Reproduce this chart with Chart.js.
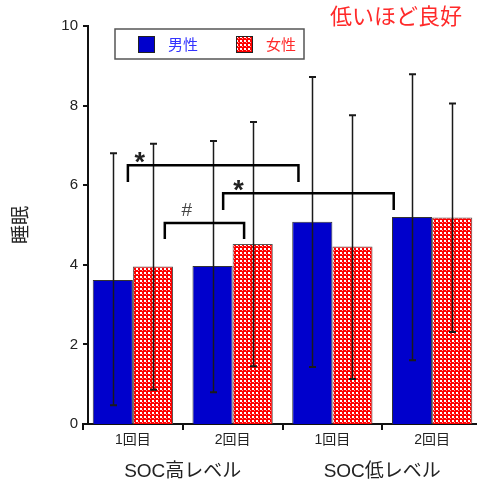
<!DOCTYPE html>
<html lang="ja">
<head>
<meta charset="UTF-8">
<title>睡眠</title>
<script src="https://cdn.jsdelivr.net/npm/chart.js"></script>
<style>
  html, body { margin: 0; padding: 0; background: #fff; overflow: hidden; }
  #chart { display: block; }
</style>
</head>
<body>
<canvas id="chart" width="482" height="484"></canvas>
<script>
// data
const categories = ['1回目', '2回目', '1回目', '2回目'];
const groups = ['SOC高レベル', 'SOC低レベル'];
const seriesNames = ['男性', '女性'];
const maleMean = [3.62, 3.97, 5.08, 5.2];
const maleUpper = [6.8, 7.11, 8.72, 8.79];
const maleLower = [0.47, 0.8, 1.43, 1.6];
const femaleMean = [3.96, 4.52, 4.46, 5.19];
const femaleUpper = [7.04, 7.59, 7.76, 8.05];
const femaleLower = [0.86, 1.45, 1.13, 2.31];
const yMin = 0, yMax = 10, yStep = 2;
const yTitle = '睡眠';
const note = '低いほど良好';
// significance brackets, in category-index / value units
const brackets = [
  { from: -0.05, to: 1.66, y: 6.5, drop: 0.42, mark: '*', markAt: 0.07 },
  { from: 0.905, to: 2.615, y: 5.8, drop: 0.42, mark: '*', markAt: 1.06 },
  { from: 0.32, to: 1.115, y: 5.05, drop: 0.4, mark: '#', markAt: 0.54 }
];

const FONT = "'Liberation Sans', 'Noto Sans CJK JP', sans-serif";
const ctx = document.getElementById('chart').getContext('2d');

function checkPattern() {
  const c = document.createElement('canvas');
  c.width = 4; c.height = 4;
  const g = c.getContext('2d');
  g.fillStyle = '#ff0000'; g.fillRect(0, 0, 4, 4);
  g.fillStyle = '#ffffff'; g.fillRect(0, 0, 2, 2);
  g.fillStyle = '#ffa0a0'; g.fillRect(2, 2, 1, 1);
  return ctx.createPattern(c, 'repeat');
}
const redCheck = checkPattern();
const blue = '#0000cc';

function centerText(g, text, x, cy) {
  const m = g.measureText(text);
  g.fillText(text, x, cy + (m.actualBoundingBoxAscent - m.actualBoundingBoxDescent) / 2);
}

const extras = {
  id: 'extras',
  afterDatasetsDraw(chart) {
    const g = chart.ctx;
    const y = chart.scales.y;
    const errs = [[maleUpper, maleLower], [femaleUpper, femaleLower]];
    g.save();
    g.strokeStyle = '#1a1a1a';
    errs.forEach(([up, lo], di) => {
      chart.getDatasetMeta(di).data.forEach((bar, i) => {
        const x = Math.round(bar.x) + 0.5;
        const yt = y.getPixelForValue(up[i]), yb = y.getPixelForValue(lo[i]);
        g.lineWidth = 1.5;
        g.beginPath(); g.moveTo(x, yt); g.lineTo(x, yb); g.stroke();
        g.lineWidth = 2;
        g.beginPath();
        g.moveTo(x - 3.5, yt); g.lineTo(x + 3.5, yt);
        g.moveTo(x - 3.5, yb); g.lineTo(x + 3.5, yb);
        g.stroke();
      });
    });
    g.restore();
  },
  afterDraw(chart) {
    const g = chart.ctx;
    const { x: xs, y: ys } = chart.scales;
    const area = chart.chartArea;
    g.save();

    // y axis line set a little right of the x axis start
    const ax = Math.round(area.left) + 5;
    g.strokeStyle = '#111';
    g.lineWidth = 2;
    g.beginPath();
    g.moveTo(ax, ys.getPixelForValue(yMax) - 1);
    g.lineTo(ax, area.bottom);
    ys.ticks.forEach(t => {
      const py = Math.round(ys.getPixelForValue(t.value));
      g.moveTo(area.left, py); g.lineTo(ax, py);
    });
    g.stroke();

    // brackets
    brackets.forEach(b => {
      const x1 = xs.getPixelForValue(b.from), x2 = xs.getPixelForValue(b.to);
      const yl = ys.getPixelForValue(b.y), yd = ys.getPixelForValue(b.y - b.drop);
      g.strokeStyle = '#000';
      g.lineWidth = 2.5;
      g.beginPath();
      g.moveTo(x1, yd); g.lineTo(x1, yl); g.lineTo(x2, yl); g.lineTo(x2, yd);
      g.stroke();
      g.textAlign = 'center';
      if (b.mark === '*') {
        g.fillStyle = '#222';
        g.font = 'bold 27px ' + FONT;
        centerText(g, b.mark, xs.getPixelForValue(b.markAt), yl - 8);
      } else {
        g.fillStyle = '#444';
        g.font = '19px ' + FONT;
        centerText(g, b.mark, xs.getPixelForValue(b.markAt), yl - 14);
      }
    });

    // legend box inside the plot
    const lx = area.left + 32, ly = area.top + 3, lw = 189, lh = 30;
    g.fillStyle = '#fff';
    g.fillRect(lx, ly, lw, lh);
    g.strokeStyle = '#555';
    g.lineWidth = 1.5;
    g.strokeRect(lx, ly, lw, lh);
    const items = [
      { fill: blue, text: seriesNames[0], color: '#3333ff', sx: lx + 23 },
      { fill: redCheck, text: seriesNames[1], color: '#ff2a2a', sx: lx + 121 }
    ];
    g.font = '15px ' + FONT;
    g.textAlign = 'left';
    items.forEach(it => {
      g.fillStyle = it.fill;
      g.fillRect(it.sx, ly + 7, 16, 16);
      g.strokeStyle = '#222';
      g.lineWidth = 1;
      g.strokeRect(it.sx + 0.5, ly + 7.5, 16, 16);
      g.fillStyle = it.color;
      centerText(g, it.text, it.sx + 30, ly + 15.5);
    });

    // note at top right
    g.fillStyle = '#ff2a2a';
    g.font = '22px ' + FONT;
    g.textAlign = 'right';
    centerText(g, note, chart.width - 20, 16);
    g.restore();
  }
};

new Chart(ctx, {
  type: 'bar',
  data: {
    labels: categories,
    datasets: [
      { label: seriesNames[0], data: maleMean, backgroundColor: blue,
        borderColor: '#333', borderWidth: 1 },
      { label: seriesNames[1], data: femaleMean, backgroundColor: redCheck,
        borderColor: '#555', borderWidth: 1 }
    ]
  },
  options: {
    responsive: false,
    animation: false,
    devicePixelRatio: 1,
    layout: { padding: { top: 26, left: 0, right: 0, bottom: 0 } },
    categoryPercentage: 0.805,
    barPercentage: 1.0,
    plugins: { legend: { display: false }, tooltip: { enabled: false }, title: { display: false } },
    scales: {
      x: {
        position: 'bottom',
        grid: { offset: true, drawOnChartArea: false, drawTicks: true, tickLength: 6, color: '#111', lineWidth: 2 },
        border: { display: true, color: '#111', width: 2 },
        ticks: { color: '#222', font: { family: FONT, size: 14 }, padding: 2, maxRotation: 0 },
        afterFit: s => { s.height = 26; }
      },
      x2: {
        type: 'category',
        position: 'bottom',
        labels: groups,
        grid: { display: false, drawTicks: false },
        border: { display: false },
        ticks: { color: '#222', font: { family: FONT, size: 19 }, padding: 10, maxRotation: 0 },
        afterFit: s => { s.height = 34; }
      },
      y: {
        min: yMin, max: yMax,
        ticks: { stepSize: yStep, color: '#222', font: { family: FONT, size: 15 }, padding: 5 },
        grid: { display: false, drawTicks: false },
        border: { display: false },
        title: { display: true, text: yTitle, color: '#222', font: { family: FONT, size: 19 }, padding: { top: 10, bottom: 0 } },
        afterFit: s => { s.width = 83; }
      }
    }
  },
  plugins: [extras]
});
</script>
</body>
</html>
